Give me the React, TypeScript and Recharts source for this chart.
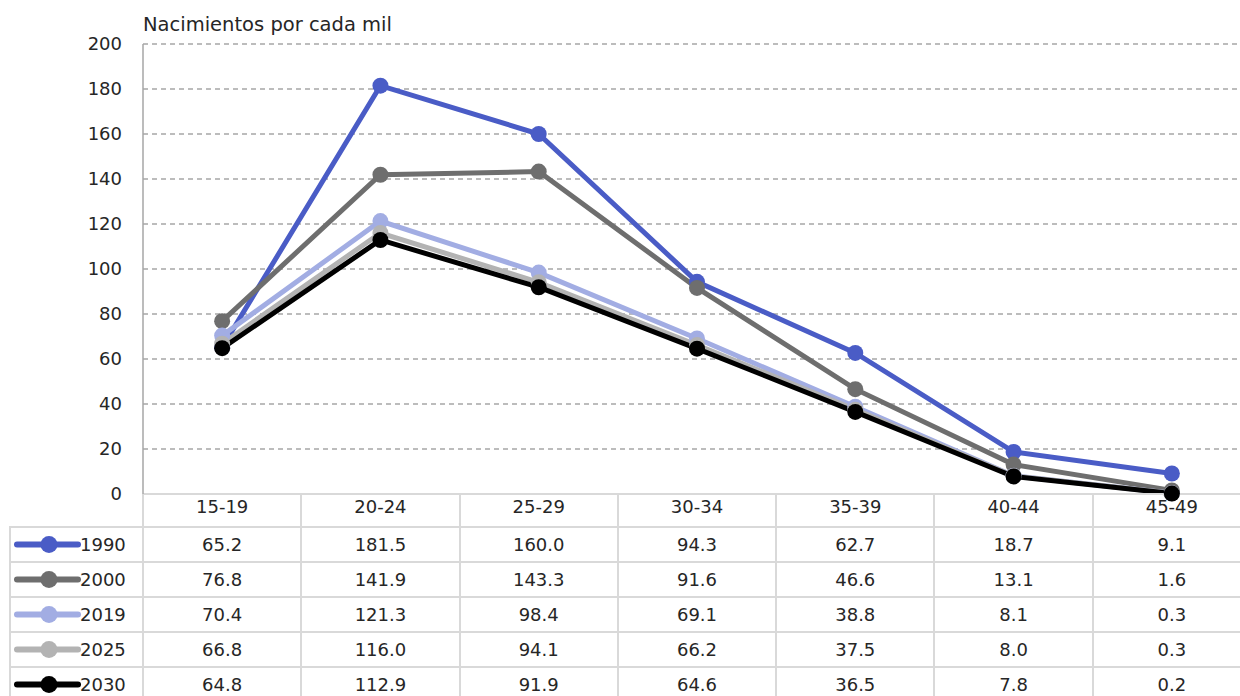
import React from 'react';
import { LineChart, Line, XAxis, YAxis, CartesianGrid } from 'recharts';

const grupos = ['15-19', '20-24', '25-29', '30-34', '35-39', '40-44', '45-49'];
const anios = ['1990', '2000', '2019', '2025', '2030'];
const v1990 = [65.2, 181.5, 160.0, 94.3, 62.7, 18.7, 9.1];
const v2000 = [76.8, 141.9, 143.3, 91.6, 46.6, 13.1, 1.6];
const v2019 = [70.4, 121.3, 98.4, 69.1, 38.8, 8.1, 0.3];
const v2025 = [66.8, 116.0, 94.1, 66.2, 37.5, 8.0, 0.3];
const v2030 = [64.8, 112.9, 91.9, 64.6, 36.5, 7.8, 0.2];
const yTicks = [0, 20, 40, 60, 80, 100, 120, 140, 160, 180, 200];

const valores = [v1990, v2000, v2019, v2025, v2030];
const colores = ['#4a5cc6', '#6e6e6e', '#a2ade3', '#b3b3b3', '#000000'];

const data = grupos.map((g, i) => {
  const row: Record<string, string | number> = { grupo: g };
  anios.forEach((a, k) => { row[a] = valores[k][i]; });
  return row;
});

const FONT = '"DejaVu Sans", sans-serif';
const TEXT = '#262626';
const GRID = '#d9d9d9';

// table geometry
const PLOT_L = 143;
const PLOT_R = 1251;
const COL_W = (PLOT_R - PLOT_L) / grupos.length;
const ROW_TOP = 527;
const ROW_H = 35;

function Tabla() {
  const lines: React.ReactNode[] = [];
  for (let i = 0; i <= grupos.length; i++) {
    lines.push(
      <div key={'v' + i} style={{ position: 'absolute', left: PLOT_L + i * COL_W - 1, top: 494, width: 2, height: 210, background: GRID }} />
    );
  }
  lines.push(<div key="vl" style={{ position: 'absolute', left: 9, top: ROW_TOP - 1, width: 2, height: 200, background: GRID }} />);
  for (let r = 0; r <= anios.length; r++) {
    lines.push(
      <div key={'h' + r} style={{ position: 'absolute', left: 9, top: ROW_TOP + r * ROW_H - 1, width: PLOT_R - 9, height: 2, background: GRID }} />
    );
  }
  return (
    <div style={{ position: 'absolute', left: 0, top: 0 }}>
      {lines}
      {anios.map((a, r) => (
        <div key={a}>
          <svg style={{ position: 'absolute', left: 10, top: ROW_TOP + r * ROW_H }} width={72} height={ROW_H}>
            <line x1={7} x2={68} y1={ROW_H / 2} y2={ROW_H / 2} stroke={colores[r]} strokeWidth={6} strokeLinecap="round" />
            <circle cx={39} cy={ROW_H / 2} r={8.5} fill={colores[r]} />
          </svg>
          <div style={{ position: 'absolute', left: 80, top: ROW_TOP + r * ROW_H, height: ROW_H, lineHeight: ROW_H + 'px', fontSize: 18, color: TEXT }}>{a}</div>
          {valores[r].map((v, i) => (
            <div key={i} style={{ position: 'absolute', left: PLOT_L + i * COL_W, width: COL_W, top: ROW_TOP + r * ROW_H, height: ROW_H, lineHeight: ROW_H + 'px', textAlign: 'center', fontSize: 18, color: TEXT }}>
              {v.toFixed(1)}
            </div>
          ))}
        </div>
      ))}
    </div>
  );
}

export default function App() {
  return (
    <div style={{ position: 'fixed', left: 0, top: 0, width: 1240, height: 696, overflow: 'hidden', background: '#fff', fontFamily: FONT }}>
      <div style={{ position: 'absolute', left: 143, top: 13, fontSize: 19.5, color: TEXT }}>Nacimientos por cada mil</div>
      <div style={{ position: 'absolute', left: 0, top: 0 }}>
        <LineChart width={1260} height={696} data={data} margin={{ top: 44, right: 1260 - PLOT_R, left: 0, bottom: 172 }}>
          <CartesianGrid vertical={false} stroke="#a6a6a6" strokeDasharray="5 4" strokeWidth={1.3} />
          <XAxis
            dataKey="grupo"
            height={30}
            padding={{ left: COL_W / 2, right: COL_W / 2 }}
            axisLine={{ stroke: GRID, strokeWidth: 2 }}
            tickLine={false}
            tickSize={0}
            tickMargin={6}
            tick={{ fontSize: 18, fill: TEXT, fontFamily: FONT }}
            interval={0}
          />
          <YAxis
            width={143}
            domain={[0, 200]}
            ticks={yTicks}
            axisLine={{ stroke: '#a6a6a6', strokeWidth: 1.5 }}
            tickLine={false}
            tickSize={0}
            tickMargin={21}
            tick={{ fontSize: 18, fill: TEXT, fontFamily: FONT }}
          />
          {anios.map((a, k) => (
            <Line
              key={a}
              dataKey={a}
              stroke={colores[k]}
              strokeWidth={5}
              dot={{ r: 8, fill: colores[k], stroke: colores[k], strokeWidth: 0 }}
              activeDot={false}
              isAnimationActive={false}
            />
          ))}
        </LineChart>
      </div>
      <Tabla />
    </div>
  );
}
